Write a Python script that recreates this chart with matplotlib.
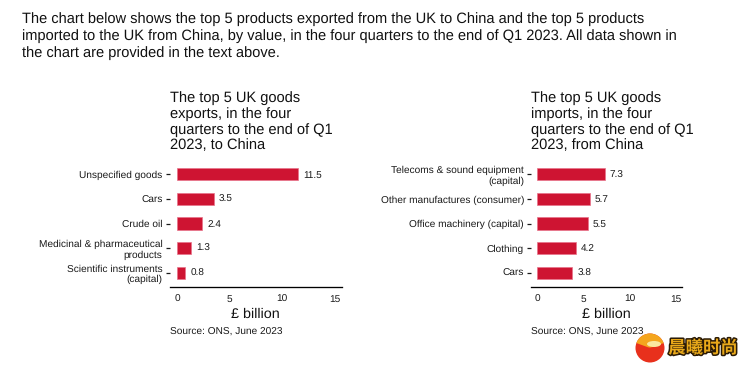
import matplotlib
matplotlib.use("Agg")
import matplotlib.pyplot as plt
import matplotlib.patheffects as pe
from matplotlib.patches import Ellipse, Wedge

plt.rcParams['font.family'] = ['Liberation Sans', 'DejaVu Sans']
plt.rcParams['text.hinting'] = 'no_hinting'

W, H = 745, 369
intro = ("The chart below shows the top 5 products exported from the UK to China and the top 5 products\n"
         "imported to the UK from China, by value, in the four quarters to the end of Q1 2023. All data shown in\n"
         "the chart are provided in the text above.")

export_labels = ["Unspecified goods", "Cars", "Crude oil",
                 "Medicinal & pharmaceutical\nproducts", "Scientific instruments\n(capital)"]
export_values = [11.5, 3.5, 2.4, 1.3, 0.8]
import_labels = ["Telecoms & sound equipment\n(capital)", "Other manufactures (consumer)",
                 "Office machinery (capital)", "Clothing", "Cars"]
import_values = [7.3, 5.7, 5.5, 4.2, 3.8]
x_ticks = [0, 5, 10, 15]
export_title = "The top 5 UK goods\nexports, in the four\nquarters to the end of Q1\n2023, to China"
import_title = "The top 5 UK goods\nimports, in the four\nquarters to the end of Q1\n2023, from China"
x_label = "£ billion"
source = "Source: ONS, June 2023"
RED = "#CE1432"
INK = "#1a1a1a"

fig = plt.figure(figsize=(W / 100, H / 100), dpi=100, facecolor="white")


def px(x, y):
    return x / W, 1 - y / H


fig.text(*px(22, 12.5), intro, fontsize=10.5, color="#111111", va="top", ha="left", linespacing=1.27)


def panel(left, right, x0, x15, labels, values, title, title_x):
    top, bottom = 159.7, 287.3
    ax = fig.add_axes([left / W, 1 - bottom / H, (right - left) / W, (bottom - top) / H])
    per = (x15 - x0) / 15
    ax.set_xlim((left - x0) / per, (right - x0) / per)
    ax.set_ylim(4.6, -0.6)
    ypos = list(range(len(values)))
    ax.barh(ypos, values, height=0.49, color=RED, edgecolor="#E8738A", linewidth=0.5)
    for y, v in zip(ypos, values):
        ax.annotate(f"{v:.1f}", (v, y), xytext=(3.7, -0.5), textcoords="offset points",
                    va="center", ha="left", fontsize=7.2, color=INK)
    ax.set_yticks(ypos)
    ax.set_yticklabels(labels, fontsize=7.3, color=INK, linespacing=1.2, ma="right")
    ax.set_xticks(x_ticks)
    ax.tick_params(axis="x", labelsize=7.3, length=0, pad=5.2, labelcolor=INK)
    ax.tick_params(axis="y", length=2.6, width=0.9, pad=2.4, color=INK)
    for s in ("top", "right", "left"):
        ax.spines[s].set_visible(False)
    ax.spines["bottom"].set_linewidth(0.95)
    ax.spines["bottom"].set_color("black")
    fig.text(*px(title_x, 91), title, fontsize=10.5, color="#111111", va="top", ha="left", linespacing=1.17)
    fig.text(*px((left + right) / 2, 314), x_label, fontsize=10.4, color="#111111", va="center", ha="center")
    fig.text(*px(title_x, 332), source, fontsize=7.3, color=INK, va="center", ha="left")


panel(169.5, 341.7, 177, 334.7, export_labels, export_values, export_title, 169.5)
panel(531, 681.7, 537, 675.7, import_labels, import_values, import_title, 531)

# Watermark
bg = fig.add_axes([0, 0, 1, 1], facecolor="none", zorder=5)
bg.set_xlim(0, W)
bg.set_ylim(H, 0)
bg.axis("off")
bg.add_patch(Ellipse((650, 348), 29, 29, color="#E8301C", lw=0))
bg.add_patch(Wedge((650, 348), 14.5, 200, 340, color="#F4A61E", lw=0))
bg.add_patch(Ellipse((652, 352), 22, 9, color="#E8301C", lw=0))
bg.add_patch(Ellipse((654, 344), 14, 6, color="#FBE7A0", lw=0))
bg.text(703, 348, "晨曦时尚", family=["Noto Sans CJK SC", "DejaVu Sans"], fontsize=12.5, fontweight="bold",
        color="#E9A91A", ha="center", va="center",
        path_effects=[pe.withStroke(linewidth=2.2, foreground="#2a1a05")])

fig.savefig("out.png", dpi=100)
